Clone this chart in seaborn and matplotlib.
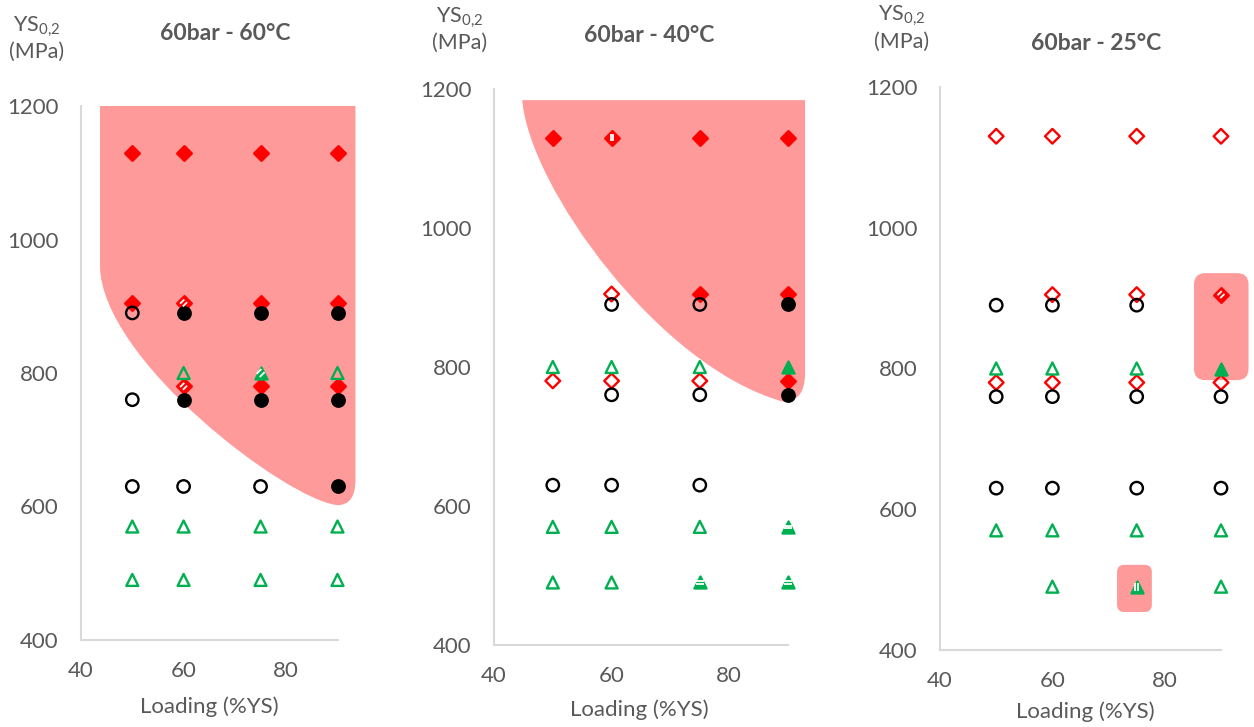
import matplotlib.pyplot as plt
import seaborn as sns
import pandas as pd
from matplotlib.path import Path
from matplotlib.patches import PathPatch, FancyBboxPatch

loads = [50, 60, 75, 90]
diamond_ys = [1130, 905, 780]
circle_ys = [890, 760, 630]
triangle_ys = [800, 570, 490]

# one string per YS level, one char per load:
# F filled, O open, - no point, / | = filled with white stripes
diamonds_60C = ['FFFF', 'F/FF', '-/FF']
circles_60C = ['OFFF', 'OFFF', 'OOOF']
triangles_60C = ['-O/O', 'OOOO', 'OOOO']

diamonds_40C = ['F|FF', '-OFF', 'OOOF']
circles_40C = ['-OOF', '-OOF', 'OOO-']
triangles_40C = ['OOOF', 'OOO=', 'OO==']

diamonds_25C = ['OOOO', '-OO/', 'OOOO']
circles_25C = ['OOO-', 'OOOO', 'OOOO']
triangles_25C = ['OOOF', 'OOOO', '-O|O']

titles = ['60bar - 60°C', '60bar - 40°C', '60bar - 25°C']
x_ticks = [40, 60, 80]
y_ticks = [400, 600, 800, 1000, 1200]

# shaded zones, outline points in data units
zone_60C = [(43.7, 1200), (93.5, 1200), (93.5, 640), (93.5, 602), (90, 602),
            (80, 610), (44, 820), (43.7, 960), (43.7, 1200)]
zone_60C_codes = 'MLLQQCCCL'
zone_40C = [(44.8, 1184), (92.9, 1184), (92.9, 791), (92.9, 750), (89.2, 750),
            (68, 800), (46, 1060), (44.8, 1184)]
zone_40C_codes = 'MLLQQCCC'
# boxes x0, y0, x1, y1
zones_25C = [(85.2, 783.5, 94.9, 935.5), (71.5, 454, 77.7, 521)]

panels = [
    (titles[0], diamonds_60C, circles_60C, triangles_60C),
    (titles[1], diamonds_40C, circles_40C, triangles_40C),
    (titles[2], diamonds_25C, circles_25C, triangles_25C),
]

rows = []
for title, dia, cir, tri in panels:
    for shape, levels, states in [('D', diamond_ys, dia), ('o', circle_ys, cir), ('^', triangle_ys, tri)]:
        for ys, st in zip(levels, states):
            for load, c in zip(loads, st):
                if c != '-':
                    rows.append({'panel': title, 'shape': shape, 'load': load, 'ys': ys, 'state': c})
df = pd.DataFrame(rows)
print(df.groupby(['panel', 'state']).size())

sns.set_theme(style='white')
plt.rcParams['font.family'] = ['Lato', 'DejaVu Sans']
plt.rcParams['mathtext.fontset'] = 'custom'
plt.rcParams['mathtext.rm'] = 'Lato'
plt.rcParams['mathtext.it'] = 'Lato:italic'
plt.rcParams['mathtext.bf'] = 'Lato:bold'

GREY = '#595959'
SHADE = '#FF9A9A'
colors = {'D': '#FF0000', 'o': '#000000', '^': '#00B050'}
sizes = {'D': 56, 'o': 80, '^': 74}

M, L, Q, C = Path.MOVETO, Path.LINETO, Path.CURVE3, Path.CURVE4
code_map = {'M': M, 'L': L, 'Q': Q, 'C': C}
stripes = {
    '/': Path([(-0.5, -0.1), (0.1, 0.5), (-0.1, -0.5), (0.5, 0.1)], [M, L, M, L]),
    '|': Path([(-0.15, -0.5), (-0.15, 0.5), (0.15, -0.5), (0.15, 0.5)], [M, L, M, L]),
    '=': Path([(-0.5, -0.15), (0.5, -0.15), (-0.5, 0.15), (0.5, 0.15)], [M, L, M, L]),
}

W, H = 1254, 727
# axes box in pixels: left, right, top, bottom
boxes = [(81, 337.5, 106, 640), (494, 788, 89, 645), (940, 1221, 87, 650)]
title_pos = [(225, 34), (649, 36), (1096, 43)]
ys_pos = [(37, 27, 52), (460, 18, 43), (902, 16, 42)]
xlabel_pos = [(209, 707), (639, 710), (1085, 712)]

fig = plt.figure(figsize=(W / 100, H / 100), dpi=100)

for i, (title, _, _, _) in enumerate(panels):
    l, r, t, b = boxes[i]
    ax = fig.add_axes([l / W, 1 - b / H, (r - l) / W, (b - t) / H])
    ax.set_xlim(40, 90)
    ax.set_ylim(400, 1200)

    if i == 0:
        patch = PathPatch(Path(zone_60C + [zone_60C[0]], [code_map[c] for c in zone_60C_codes] + [Path.CLOSEPOLY]),
                          fc=SHADE, ec='none', clip_on=False, zorder=1)
        ax.add_patch(patch)
    elif i == 1:
        patch = PathPatch(Path(zone_40C + [zone_40C[0]], [code_map[c] for c in zone_40C_codes] + [Path.CLOSEPOLY]),
                          fc=SHADE, ec='none', clip_on=False, zorder=1)
        ax.add_patch(patch)
    else:
        aspect = ((r - l) / 50) / ((b - t) / 800)
        for (x0, y0, x1, y1), rs in zip(zones_25C, [2.0, 1.3]):
            ax.add_patch(FancyBboxPatch((x0, y0), x1 - x0, y1 - y0,
                                        boxstyle=f'round,pad=0,rounding_size={rs}',
                                        mutation_aspect=aspect, fc=SHADE, ec='none',
                                        clip_on=False, zorder=1))

    sub = df[df['panel'] == title]
    for shape in ['D', 'o', '^']:
        col = colors[shape]
        part = sub[sub['shape'] == shape]
        opened = part[part['state'] == 'O']
        filled = part[part['state'] != 'O']
        if len(opened):
            sns.scatterplot(data=opened, x='load', y='ys', marker=shape, s=sizes[shape],
                            color=col, facecolor='none', edgecolor=col, linewidth=1.7,
                            ax=ax, legend=False, zorder=3, clip_on=False)
        if len(filled):
            sns.scatterplot(data=filled, x='load', y='ys', marker=shape, s=sizes[shape],
                            color=col, edgecolor=col, linewidth=1.7,
                            ax=ax, legend=False, zorder=3, clip_on=False)
        for key, path in stripes.items():
            st = part[part['state'] == key]
            if len(st):
                sns.scatterplot(data=st, x='load', y='ys', marker=path, s=sizes[shape] * 0.45,
                                color='white', facecolor='none', edgecolor='white', linewidth=1.3,
                                ax=ax, legend=False, zorder=4, clip_on=False)

    ax.set_xticks(x_ticks)
    ax.set_yticks(y_ticks)
    ax.set_xlabel('')
    ax.set_ylabel('')
    ax.tick_params(length=0, labelsize=16, labelcolor=GREY)
    ax.tick_params(axis='x', pad=15)
    ax.tick_params(axis='y', pad=16)
    sns.despine(ax=ax)
    for side in ['left', 'bottom']:
        ax.spines[side].set_color('#D9D9D9')
        ax.spines[side].set_linewidth(1.5)
    ax.grid(False)

    tx, ty = title_pos[i]
    fig.text(tx / W, 1 - ty / H, title, ha='center', va='center',
             fontsize=16.5, fontweight='bold', color=GREY)
    yx, yy1, yy2 = ys_pos[i]
    fig.text(yx / W, 1 - yy1 / H, r'YS$_{\mathregular{0{,}2}}$', ha='center', va='center',
             fontsize=15.5, color=GREY)
    fig.text(yx / W, 1 - yy2 / H, '(MPa)', ha='center', va='center', fontsize=15.5, color=GREY)
    lx, ly = xlabel_pos[i]
    fig.text(lx / W, 1 - ly / H, 'Loading (%YS)', ha='center', va='center',
             fontsize=16, color=GREY)

fig.savefig('out.png', dpi=100, facecolor='white')
